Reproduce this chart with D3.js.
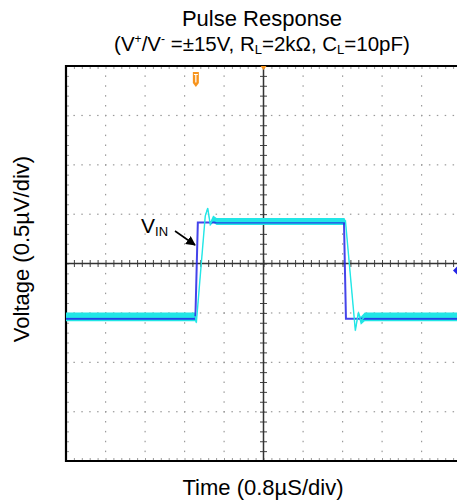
<!DOCTYPE html>
<html>
<head>
<meta charset="utf-8">
<script src="https://cdn.jsdelivr.net/npm/d3@7"></script>
<style>
  body { margin: 0; background: #fff; }
  svg { display: block; font-family: "Liberation Sans", Arial, sans-serif; }
</style>
</head>
<body>
<div id="chart"></div>
<script>
// scope settings: 10 x 0.8us divisions, 8 x 0.5 divisions
var timeDomain = [0, 8];
var voltDomain = [-2, 2];
var timeDiv = 0.8, voltDiv = 0.5;

// input pulse (VIN, blue trace)
var vinTime = [0, 2.62, 2.67, 5.63, 5.67, 8];
var vinVolt = [-0.56, -0.56, 0.415, 0.415, -0.56, -0.56];

// output (cyan trace) centre and noise half-width
var outTime  = [0, 2.62, 2.64, 2.82, 2.87, 2.92, 2.98, 3.05, 5.64, 5.66, 5.86, 5.92, 5.97, 6.05, 8];
var outVolt  = [-0.54, -0.54, -0.60, 0.48, 0.56, 0.40, 0.45, 0.426, 0.426, 0.43, -0.68, -0.50, -0.58, -0.54, -0.54];
var outNoise = [0.045, 0.045, 0.01, 0.01, 0.01, 0.02, 0.035, 0.035, 0.035, 0.01, 0.01, 0.02, 0.04, 0.045, 0.045];

var trigTime = 2.63;
var chMarkVolt = -0.07;

var svgWidth = 457, svgHeight = 502;
var margin = { top: 66, left: 66 };
var plotW = 395, plotH = 395;

var svg = d3.select("#chart").append("svg")
    .attr("width", svgWidth)
    .attr("height", svgHeight);

var x = d3.scaleLinear().domain(timeDomain).range([margin.left, margin.left + plotW]);
var y = d3.scaleLinear().domain(voltDomain).range([margin.top + plotH, margin.top]);

var xMajor = d3.range(timeDomain[0], timeDomain[1] + 1e-9, timeDiv);
var yMajor = d3.range(voltDomain[0], voltDomain[1] + 1e-9, voltDiv);
var xMinor = d3.range(timeDomain[0], timeDomain[1] + 1e-9, timeDiv / 5);
var yMinor = d3.range(voltDomain[0], voltDomain[1] + 1e-9, voltDiv / 5);

// dotted graticule
var grid = svg.append("g").attr("fill", "#9a9a9a");
xMajor.slice(1, -1).forEach(function(t) {
    grid.selectAll(null).data(yMinor.slice(1, -1)).enter().append("rect")
        .attr("x", x(t) - 0.5).attr("y", function(d) { return y(d) - 0.5; })
        .attr("width", 1.2).attr("height", 1.5);
});
yMajor.slice(1, -1).forEach(function(v) {
    grid.selectAll(null).data(xMinor.slice(1, -1)).enter().append("rect")
        .attr("x", function(d) { return x(d) - 0.5; }).attr("y", y(v) - 0.5)
        .attr("width", 1.5).attr("height", 1.2);
});

// border minor ticks
function plain(g, color) {
    g.select(".domain").remove();
    g.selectAll(".tick line").attr("stroke", color);
}
svg.append("g").attr("transform", "translate(0," + y(voltDomain[1]) + ")")
    .call(d3.axisBottom(x).tickValues(xMinor).tickSize(3).tickFormat(""))
    .call(plain, "#999");
svg.append("g").attr("transform", "translate(0," + y(voltDomain[0]) + ")")
    .call(d3.axisTop(x).tickValues(xMinor).tickSize(3).tickFormat(""))
    .call(plain, "#999");
svg.append("g").attr("transform", "translate(" + x(timeDomain[0]) + ",0)")
    .call(d3.axisRight(y).tickValues(yMinor).tickSize(3).tickFormat(""))
    .call(plain, "#999");

// centre axes with minor ticks both sides
var cx = x((timeDomain[0] + timeDomain[1]) / 2), cy = y(0);
[d3.axisBottom, d3.axisTop].forEach(function(ax) {
    svg.append("g").attr("transform", "translate(0," + cy + ")")
        .call(ax(x).tickValues(xMinor).tickSize(3.5).tickFormat(""))
        .call(plain, "#444");
});
[d3.axisLeft, d3.axisRight].forEach(function(ax) {
    svg.append("g").attr("transform", "translate(" + cx + ",0)")
        .call(ax(y).tickValues(yMinor).tickSize(3.5).tickFormat(""))
        .call(plain, "#444");
});
svg.append("line").attr("x1", x.range()[0]).attr("x2", x.range()[1])
    .attr("y1", cy).attr("y2", cy).attr("stroke", "#333").attr("stroke-width", 1.5);
svg.append("line").attr("x1", cx).attr("x2", cx)
    .attr("y1", y.range()[1]).attr("y2", y.range()[0]).attr("stroke", "#333").attr("stroke-width", 1.5);

// frame (right edge falls outside the window)
svg.append("path")
    .attr("d", "M" + x.range()[1] + "," + y.range()[1] + "H" + x.range()[0] + "V" + y.range()[0] + "H" + x.range()[1])
    .attr("fill", "none").attr("stroke", "#000").attr("stroke-width", 2.2);

// traces
var outData = outTime.map(function(t, i) { return { t: t, v: outVolt[i], n: outNoise[i] }; });
var vinData = vinTime.map(function(t, i) { return { t: t, v: vinVolt[i] }; });

svg.append("path").datum(outData)
    .attr("fill", "#22e6e6")
    .attr("d", d3.area()
        .x(function(d) { return x(d.t); })
        .y0(function(d) { return y(d.v - d.n); })
        .y1(function(d) { return y(d.v + d.n); }));

svg.append("path").datum(vinData)
    .attr("fill", "none")
    .attr("stroke", "#2323e6")
    .attr("stroke-opacity", 0.85)
    .attr("stroke-width", 2)
    .attr("d", d3.line().x(function(d) { return x(d.t); }).y(function(d) { return y(d.v); }));

svg.append("path").datum(outData)
    .attr("fill", "none")
    .attr("stroke", "#22e6e6")
    .attr("stroke-width", 1.4)
    .attr("d", d3.line().x(function(d) { return x(d.t); }).y(function(d) { return y(d.v); }));

// trigger markers
var tx = x(trigTime);
svg.append("path")
    .attr("d", "M" + (tx - 3) + ",72 h6 v11 l-3,4 l-3,-4 z")
    .attr("fill", "#f7941d");
svg.append("path")
    .attr("d", "M" + (tx - 2) + ",74.5 h4 M" + tx + ",74.5 v8")
    .attr("stroke", "#fff").attr("stroke-width", 1.2).attr("fill", "none");
svg.append("path")
    .attr("d", "M" + (cx - 3) + "," + y.range()[1] + " h6 l-3,4 z")
    .attr("fill", "#f7941d");

// channel marker on right edge
var my = y(chMarkVolt);
svg.append("path")
    .attr("d", "M" + (svgWidth - 4) + "," + my + " l4,-4 v8 z")
    .attr("fill", "#2323e6");

// VIN annotation
var vinLabel = svg.append("text").attr("x", 141).attr("y", 233).attr("font-size", 21);
vinLabel.append("tspan").text("V");
vinLabel.append("tspan").attr("font-size", 13).attr("dy", 3).text("IN");
svg.append("defs").append("marker")
    .attr("id", "arr").attr("viewBox", "0 0 10 10").attr("refX", 9).attr("refY", 5)
    .attr("markerWidth", 6).attr("markerHeight", 6).attr("orient", "auto")
    .append("path").attr("d", "M0,0 L10,5 L0,10 z").attr("fill", "#000");
svg.append("line")
    .attr("x1", 175).attr("y1", 231).attr("x2", 195).attr("y2", 245)
    .attr("stroke", "#000").attr("stroke-width", 1.6).attr("marker-end", "url(#arr)");

// titles
var midX = 262;
svg.append("text").attr("x", midX).attr("y", 26).attr("text-anchor", "middle")
    .attr("font-size", 22).text("Pulse Response");
var t2 = svg.append("text").attr("x", midX).attr("y", 51).attr("text-anchor", "middle")
    .attr("font-size", 20.5);
t2.append("tspan").text("(V");
t2.append("tspan").attr("font-size", 12).attr("dy", -8).text("+");
t2.append("tspan").attr("dy", 8).text("/V");
t2.append("tspan").attr("font-size", 12).attr("dy", -8).text("-");
t2.append("tspan").attr("dy", 8).text(" =\u00b115V, R");
t2.append("tspan").attr("font-size", 13).attr("dy", 3).text("L");
t2.append("tspan").attr("dy", -3).text("=2k\u03a9, C");
t2.append("tspan").attr("font-size", 13).attr("dy", 3).text("L");
t2.append("tspan").attr("dy", -3).text("=10pF)");

svg.append("text").attr("x", 263).attr("y", 495).attr("text-anchor", "middle")
    .attr("font-size", 22).text("Time (0.8\u00b5S/div)");
svg.append("text").attr("transform", "translate(29,249) rotate(-90)")
    .attr("text-anchor", "middle").attr("font-size", 22).text("Voltage (0.5\u00b5V/div)");
</script>
</body>
</html>
